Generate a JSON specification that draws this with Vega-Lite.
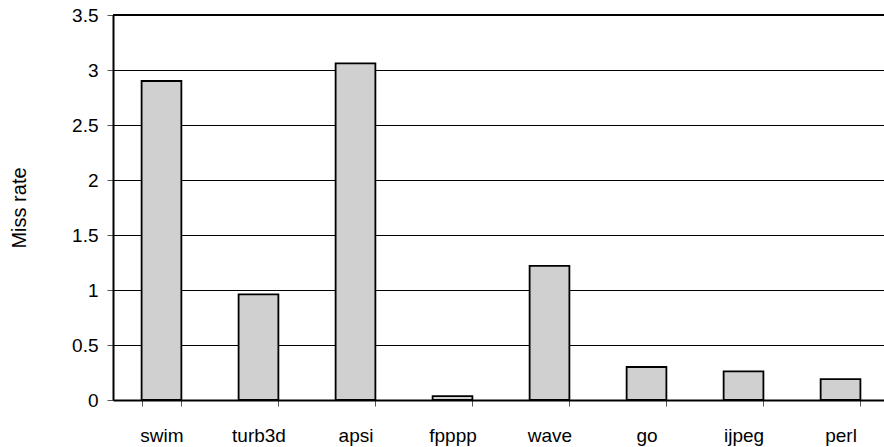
{
  "$schema": "https://vega.github.io/schema/vega-lite/v6.json",
  "autosize": "none",
  "width": 771,
  "height": 385,
  "padding": {"left": 113, "top": 15, "right": 0, "bottom": 47},
  "background": "white",
  "config": {
    "view": {"stroke": null},
    "font": "Liberation Sans"
  },
  "data": {
    "values": [
      {"benchmark": "swim", "miss": 2.9},
      {"benchmark": "turb3d", "miss": 0.96},
      {"benchmark": "apsi", "miss": 3.06},
      {"benchmark": "fpppp", "miss": 0.035},
      {"benchmark": "wave", "miss": 1.22},
      {"benchmark": "go", "miss": 0.3},
      {"benchmark": "ijpeg", "miss": 0.26},
      {"benchmark": "perl", "miss": 0.19}
    ]
  },
  "layer": [
    {
      "mark": {"type": "bar", "fill": "#d0d0d0", "stroke": "black", "strokeWidth": 1.8},
      "encoding": {
        "x": {
          "field": "benchmark",
          "type": "nominal",
          "sort": null,
          "scale": {"paddingInner": 0.59, "paddingOuter": 0.269, "align": 0.548},
          "axis": {
            "title": null,
            "labelAngle": 0,
            "labelFont": "Liberation Sans",
            "labelFontSize": 19,
            "labelColor": "black",
            "labelPadding": 20,
            "tickBand": "extent",
            "tickSize": 6,
            "tickColor": "#555",
            "tickWidth": 1,
            "domainColor": "black",
            "domainWidth": 2,
            "grid": false
          }
        },
        "y": {
          "field": "miss",
          "type": "quantitative",
          "scale": {"domain": [0, 3.5], "nice": false},
          "axis": {
            "title": "Miss rate",
            "titleFont": "Liberation Sans",
            "titleFontSize": 20,
            "titleFontWeight": "normal",
            "titleColor": "black",
            "titlePadding": 42,
            "values": [0, 0.5, 1, 1.5, 2, 2.5, 3, 3.5],
            "format": "~g",
            "labelFont": "Liberation Sans",
            "labelFontSize": 19,
            "labelColor": "black",
            "labelPadding": 9,
            "tickSize": 6,
            "tickColor": "#555",
            "domainColor": "black",
            "domainWidth": 2,
            "grid": true,
            "gridColor": "black",
            "gridWidth": 1,
            "gridOpacity": 1
          }
        }
      }
    },
    {
      "mark": {"type": "rule", "stroke": "black", "strokeWidth": 2},
      "encoding": {"y": {"datum": 3.5}}
    }
  ]
}
